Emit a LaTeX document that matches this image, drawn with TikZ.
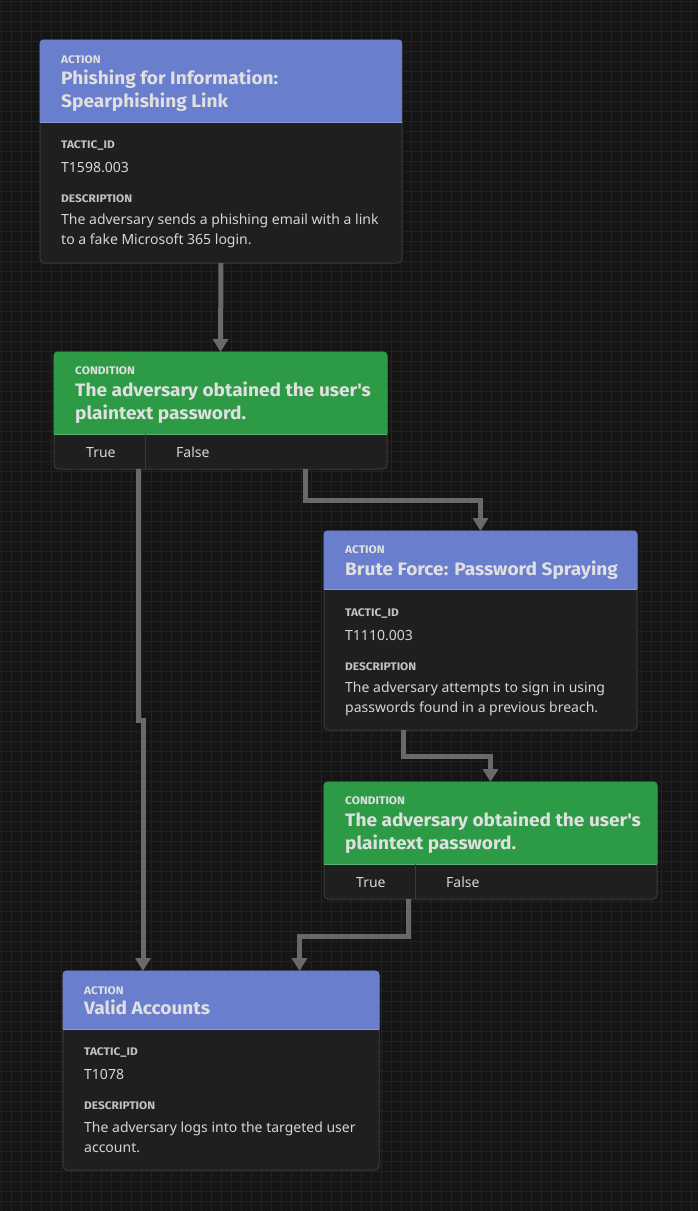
\documentclass[tikz,border=0pt]{standalone}
\usepackage{fontspec}
\setmainfont{Noto Sans}
\newfontfamily\ttlfam{Fira Sans}[FakeStretch=1.06]
\newfontfamily\lblfam{Fira Sans}[FakeStretch=1.08]
\usetikzlibrary{arrows.meta,calc}
\definecolor{bg}{HTML}{151515}
\definecolor{gridc}{HTML}{222222}
\definecolor{cardbg}{HTML}{1F1F1F}
\definecolor{cardbd}{HTML}{3A3A3A}
\definecolor{blueh}{HTML}{6A7ECE}
\definecolor{greenh}{HTML}{2D9A46}
\definecolor{hdrtxt}{HTML}{E0E0E0}
\definecolor{lbltxt}{HTML}{C2C2C2}
\definecolor{valtxt}{HTML}{D6D6D6}
\definecolor{conncol}{HTML}{696969}
\newcommand\mkhead[3]{%
  \begin{scope}
    \clip[rounded corners=4pt] ($(#1.north west)+(-0.5,-0.5)$) rectangle ($(#1.south east)+(0.5,0.5)$);
    \fill[#3] ($(#1.north west)+(-1,-1)$) rectangle ($(#1.north east)+(1,#2)$);
  \end{scope}
  \draw[#3!75!white, line width=1pt] ($(#1.north west)+(0,#2)$) -- ($(#1.north east)+(0,#2)$);
}
\begin{document}
\begin{tikzpicture}[x=1pt,y=-1pt,
  card/.style n args={2}{draw=cardbd, fill=cardbg, line width=1pt, rounded corners=4pt,
    inner sep=0pt, outer sep=0pt, anchor=north west, minimum width=#1pt, minimum height=#2pt},
  kind/.style={anchor=base west, inner sep=0pt, text=hdrtxt, font=\lblfam\fontsize{11}{12}\selectfont\bfseries},
  ttl/.style={anchor=base west, inner sep=0pt, text=hdrtxt, font=\ttlfam\fontsize{18}{20}\selectfont\bfseries},
  lbl/.style={anchor=base west, inner sep=0pt, text=lbltxt, font=\lblfam\fontsize{11}{12}\selectfont\bfseries},
  val/.style={anchor=base west, inner sep=0pt, text=valtxt, font=\fontsize{14}{16}\selectfont},
  opt/.style={anchor=base west, inner sep=0pt, text=valtxt, font=\fontsize{14}{16}\selectfont},
  divider/.style={draw=cardbd, line width=1pt},
  conn/.style={draw=conncol, line width=5pt, -{Triangle[width=15pt,length=13pt]}}
]
\useasboundingbox (0,0) rectangle (698,1211);
\fill[bg] (0,0) rectangle (698,1211);
\foreach \i in {0,...,69} \draw[gridc, line width=1pt] (1+10*\i,0) -- (1+10*\i,1211);
\foreach \j in {0,...,121} \draw[gridc, line width=1pt] (0,1+10*\j) -- (698,1+10*\j);

% ---- Action 1
\node[card={362}{223}] (a1) at (40,40) {};
\mkhead{a1}{82}{blueh}
\node[kind] (a1k) at (61,63) {ACTION};
\node[ttl] (a1t1) at (61,84.5) {Phishing for Information:};
\node[ttl] (a1t2) at (61,107) {Spearphishing Link};
\node[lbl] (a1l1) at (61,148.5) {TACTIC\_ID};
\node[val] (a1v1) at (61,172) {T1598.003};
\node[lbl] (a1l2) at (61,202.5) {DESCRIPTION};
\node[val] (a1d1) at (61,224.5) {The adversary sends a phishing email with a link};
\node[val] (a1d2) at (61,244) {to a fake Microsoft 365 login.};

% ---- Condition 1
\node[card={333}{117}] (c1) at (54,352) {};
\mkhead{c1}{82}{greenh}
\node[kind] (c1k) at (75,374.5) {CONDITION};
\node[ttl] (c1t1) at (75,396) {The adversary obtained the user\textquotesingle s};
\node[ttl] (c1t2) at (75,419) {plaintext password.};
\draw[divider] ($(c1.north west)+(91,82)$) -- ($(c1.south west)+(91,0)$);
\node[opt] (c1true) at (86,457.3) {True};
\node[opt] (c1false) at (176,457.3) {False};

% ---- Action 2
\node[card={313}{199}] (a3) at (324,531) {};
\mkhead{a3}{58}{blueh}
\node[kind] (a3k) at (345,553.7) {ACTION};
\node[ttl] (a3t1) at (345,575) {Brute Force: Password Spraying};
\node[lbl] (a3l1) at (345,616) {TACTIC\_ID};
\node[val] (a3v1) at (345,640) {T1110.003};
\node[lbl] (a3l2) at (345,670) {DESCRIPTION};
\node[val] (a3d1) at (345,692.3) {The adversary attempts to sign in using};
\node[val] (a3d2) at (345,712.3) {passwords found in a previous breach.};

% ---- Condition 2
\node[card={333}{117}] (c2) at (324,782) {};
\mkhead{c2}{82}{greenh}
\node[kind] (c2k) at (345,804.3) {CONDITION};
\node[ttl] (c2t1) at (345,826) {The adversary obtained the user\textquotesingle s};
\node[ttl] (c2t2) at (345,849.3) {plaintext password.};
\draw[divider] ($(c2.north west)+(91,82)$) -- ($(c2.south west)+(91,0)$);
\node[opt] (c2true) at (356,887.3) {True};
\node[opt] (c2false) at (446,887.3) {False};

% ---- Action 3
\node[card={316}{199}] (a5) at (63,971) {};
\mkhead{a5}{58}{blueh}
\node[kind] (a5k) at (84,994) {ACTION};
\node[ttl] (a5t1) at (84,1014.5) {Valid Accounts};
\node[lbl] (a5l1) at (84,1055.7) {TACTIC\_ID};
\node[val] (a5v1) at (84,1079.3) {T1078};
\node[lbl] (a5l2) at (84,1109.3) {DESCRIPTION};
\node[val] (a5d1) at (84,1132.5) {The adversary logs into the targeted user};
\node[val] (a5d2) at (84,1152.3) {account.};

% ---- ports
\coordinate (c1t) at ($(c1.south west)+(84,0)$);
\coordinate (c1f) at ($(c1.south west)+(251,0)$);
\coordinate (a3o) at ($(a3.south west)+(79,0)$);
\coordinate (c2t) at ($(c2.south west)+(84,0)$);
\coordinate (a5i1) at ($(a5.north west)+(80,0)$);
\coordinate (a5i2) at ($(a5.north west)+(236.5,0)$);

% ---- connectors
\draw[conn] (a1.south) -- (c1.north);
\draw[conn] (c1f) |- ($(a3.north)+(0,-31)$) -- (a3.north);
\draw[conn] (c1t) -- ($(c1t)+(0,251)$) -| (a5i1);
\draw[conn] (a3o) |- ($(c2.north)+(0,-26)$) -- (c2.north);
\draw[conn] (c2t) |- ($(a5i2)+(0,-35)$) -- (a5i2);
\end{tikzpicture}
\end{document}
